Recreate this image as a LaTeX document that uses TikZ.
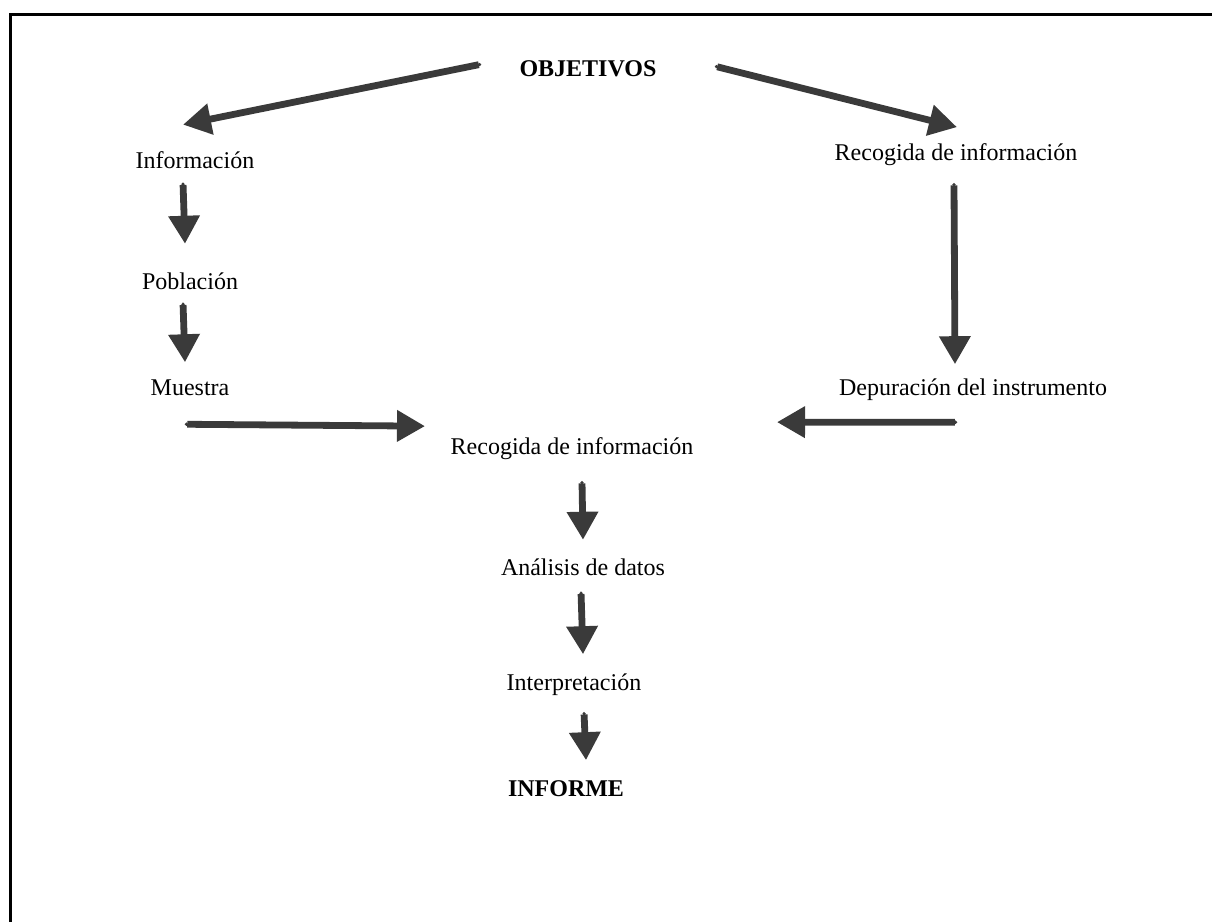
\documentclass[tikz,border=0pt]{standalone}
\usepackage{fontspec}
\setmainfont{Liberation Serif}
\usetikzlibrary{arrows.meta,calc}
\definecolor{darkarrow}{RGB}{58,58,58}
\tikzset{>={Triangle[length=14pt,width=15pt]}}
\tikzset{
  flow/.style={{Circle[length=1.5pt]}->, line width=3.4pt, darkarrow},
  txt/.style={anchor=base, inner sep=0pt, font=\fontsize{12pt}{14pt}\selectfont},
  bold/.style={txt, font=\fontsize{12pt}{14pt}\selectfont\bfseries}
}
\begin{document}
\begin{tikzpicture}[x=0.5pt,y=-0.5pt]
    \useasboundingbox (0,0) rectangle (1212,922);
    \draw[line width=1.5pt] (10.5,922) -- (10.5,14.5) -- (1212,14.5);
    % left branch
    \node[bold] (O) at (588,76) {OBJETIVOS};
    \node[txt] (I) at (195,168) {Información};
    \node[txt] (P) at (190,289) {Población};
    \node[txt] (M) at (190,395) {Muestra};
    % right branch
    \node[txt] (R) at (956,160) {Recogida de información};
    \node[txt] (D) at (973,395) {Depuración del instrumento};
    % central column
    \node[txt] (C) at (572,454) {Recogida de información};
    \node[txt] (A) at (583,575) {Análisis de datos};
    \node[txt] (T) at (574,690) {Interpretación};
    \node[bold] (F) at (566,796) {INFORME};
    \draw[flow] ($(O)+(-107,-4)$) -- ($(I)+(-12,-35)$);
    \draw[flow] ($(O)+(127,-2)$) -- ($(R)+(1,-27)$);
    \draw[flow] ($(I)+(-12,23)$) -- ($(P)+(-5,-37)$);
    \draw[flow] ($(P)+(-7,22)$) -- ($(M)+(-5,-25)$);
    \draw[flow] ($(M)+(-5,37)$) -- ($(C)+(-147,-22)$);
    \draw[flow] ($(R)+(-2,29)$) -- ($(D)+(-18,-25)$);
    \draw[flow] ($(D)+(-16,33)$) -- ($(C)+(205,-26)$);
    \draw[flow] ($(C)+(10,33)$) -- ($(A)+(0,-27)$);
    \draw[flow] ($(A)+(-2,25)$) -- ($(T)+(9,-30)$);
    \draw[flow] ($(T)+(10,28)$) -- ($(F)+(20,-28)$);
\end{tikzpicture}
\end{document}
